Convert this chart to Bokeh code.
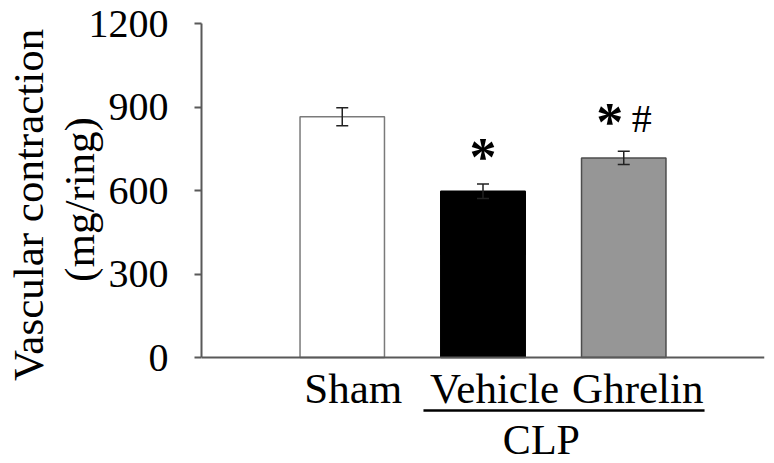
from bokeh.plotting import figure
from bokeh.models import ColumnDataSource, Whisker, TeeHead, Span, Range1d, FixedTicker
from bokeh.core.properties import value
from bokeh.embed import file_html
from bokeh.resources import INLINE

# ---- data ----
groups = ["Sham", "Vehicle", "Ghrelin"]
means = [865, 597, 717]
sems = [32, 26, 24]
fill_colors = ["white", "black", "#969696"]
line_colors = ["#7a7a7a", "black", "#4d4d4d"]
y_ticks = [0, 300, 600, 900, 1200]
group_label = "CLP"
ylabel_lines = ["Vascular contraction", "(mg/ring)"]

xs = list(range(1, len(groups) + 1))
FONT = "Liberation Serif"
AX = "#595959"

W, H = 770, 461
TOP, ZERO = 23, 357
ppu = (ZERO - TOP) / 1200.0
ymin = -(H - ZERO) / ppu

p = figure(width=W, height=H,
           x_range=Range1d(0, 4), y_range=Range1d(ymin, 1200),
           x_axis_location=None,
           min_border_left=201, min_border_right=6, min_border_top=TOP, min_border_bottom=0,
           output_backend="svg", toolbar_location=None)
p.outline_line_color = None
p.grid.visible = False
p.background_fill_color = "white"

upper = [m + s for m, s in zip(means, sems)]
lower = [m - s for m, s in zip(means, sems)]
src = ColumnDataSource(dict(x=xs, top=means, fill=fill_colors, line=line_colors,
                            upper=upper, lower=lower, name=groups))

p.vbar(x="x", top="top", bottom=0, width=0.6, fill_color="fill", line_color="line",
       line_width=1.5, source=src)

w = Whisker(base="x", upper="upper", lower="lower", source=src, level="overlay",
            line_color="#222222", line_width=1.5,
            upper_head=TeeHead(size=12, line_color="#222222", line_width=1.5),
            lower_head=TeeHead(size=12, line_color="#222222", line_width=1.5))
p.add_layout(w)

p.add_layout(Span(location=0, dimension="width", line_color=AX, line_width=2))

# y axis; the label is centred on the whole frame, so non-breaking spaces
# lift it to sit beside the 0-1200 axis as in the original
NB = "\u00a0"
ya = p.yaxis[0]
ya.bounds = (0, 1200)
ya.ticker = FixedTicker(ticks=y_ticks)
ya.minor_tick_line_color = None
ya.major_tick_out = 7
ya.major_tick_in = 0
ya.axis_line_color = AX
ya.axis_line_width = 2
ya.major_tick_line_color = AX
ya.major_tick_line_width = 2
ya.major_label_text_font = FONT
ya.major_label_text_font_size = "40px"
ya.major_label_text_color = "black"
ya.major_label_standoff = 26
ya.axis_label = NB * 7 + ylabel_lines[0] + "\n" + NB * 8 + ylabel_lines[1]
ya.axis_label_text_font = FONT
ya.axis_label_text_font_size = "43px"
ya.axis_label_text_font_style = "normal"
ya.axis_label_text_color = "black"
ya.axis_label_text_line_height = 1.08
ya.axis_label_standoff = -17

# category labels
cat_dx = [11, 11.5, 14]
p.text(x=xs, y=[0] * 3, text=groups, x_offset=cat_dx, y_offset=31,
       text_align="center", text_baseline="middle",
       text_font=value(FONT), text_font_size="43px", text_color="black")

# CLP group underline and label
y_ul = -(410 - ZERO) / ppu
p.segment(x0=[xs[1] - 0.423], y0=[y_ul], x1=[xs[2] + 0.574], y1=[y_ul],
          line_color="black", line_width=2.5)
p.text(x=[(xs[1] + xs[2]) / 2], y=[0], text=[group_label], x_offset=-12, y_offset=82,
       text_align="center", text_baseline="middle",
       text_font=value(FONT), text_font_size="42px", text_color="black")

# significance marks
p.text(x=[xs[1], xs[2]], y=[upper[1], upper[2]], text=["*", "*"],
       x_offset=[0, -14], y_offset=[-27, -29],
       text_align="center", text_baseline="middle",
       text_font=value(FONT), text_font_style="bold", text_font_size="54px", text_color="black")
p.text(x=[xs[2]], y=[upper[2]], text=["#"], x_offset=[18], y_offset=[-33],
       text_align="center", text_baseline="middle",
       text_font=value(FONT), text_font_size="40px", text_color="black")

open("out.html", "w").write(file_html(p, INLINE))
